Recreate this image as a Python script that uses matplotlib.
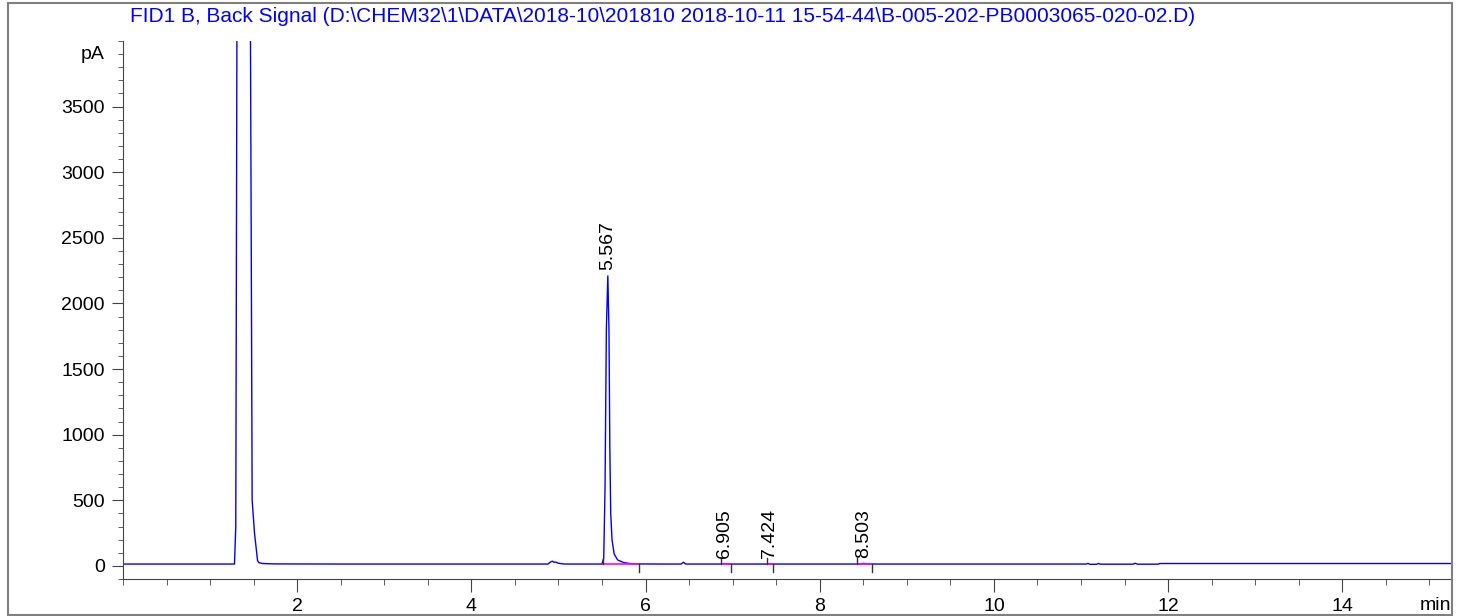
import matplotlib.pyplot as plt
from matplotlib.patches import Rectangle
from matplotlib.ticker import MultipleLocator, FixedLocator

plt.rcParams['font.family'] = ['Liberation Sans', 'DejaVu Sans']

# signal (min, pA)
time_min = [0.0, 1.28, 1.295, 1.31, 1.46, 1.465, 1.475, 1.483, 1.51, 1.545,
            1.56, 1.60, 1.74, 2.5, 3.5, 4.88, 4.91, 4.93, 4.95, 4.97, 5.0,
            5.07, 5.50, 5.52, 5.535, 5.55, 5.567, 5.58, 5.59, 5.60, 5.615,
            5.64, 5.68, 5.75, 5.85, 6.2, 6.41, 6.435, 6.46, 6.88, 6.905,
            6.93, 7.40, 7.424, 7.45, 8.47, 8.503, 8.54, 9.5, 11.06, 11.08,
            11.10, 11.18, 11.20, 11.22, 11.60, 11.62, 11.65, 11.89, 11.90,
            13.0, 15.26]
signal_pA = [14, 14, 300, 4600, 4600, 3800, 2000, 500, 250, 40,
             25, 18, 15, 14, 14, 14, 30, 36, 27, 29, 20,
             14, 14, 60, 600, 1800, 2210, 1800, 900, 400, 200,
             90, 45, 25, 15, 14, 14, 28, 14, 14, 18,
             14, 14, 17, 14, 14, 19, 14, 14, 14, 19,
             12, 12, 19, 13, 13, 20, 13, 13, 18,
             18, 18]

# integrated peaks
peak_rt = [5.567, 6.905, 7.424, 8.503]
peak_top = [2210, 18, 17, 19]
peak_start = [5.51, 6.87, 7.40, 8.43]
peak_end = [5.92, 6.985, 7.46, 8.60]
baseline_pA = 14

title = (r'FID1 B, Back Signal (D:\CHEM32\1\DATA\2018-10\201810 '
         r'2018-10-11 15-54-44\B-005-202-PB0003065-020-02.D)')

fig = plt.figure(figsize=(14.64, 6.16), dpi=100)
ax = fig.add_axes([123/1464, 37/616, 1329/1464, 538/616])

ax.plot(time_min, signal_pA, color='#0000ff', lw=1.0)

# baseline markers
for s, e in zip(peak_start, peak_end):
    ax.plot([s, e], [baseline_pA, baseline_pA], color='#ff00ff', lw=1.2)
    ax.plot([s, s], [baseline_pA, baseline_pA + 45], color='#333333', lw=1)
    ax.plot([e, e], [baseline_pA, baseline_pA - 60], color='#333333', lw=1)

for rt, top in zip(peak_rt, peak_top):
    ax.annotate(f'{rt:.3f}', (rt, top), xytext=(0, 4), textcoords='offset points',
                rotation=90, ha='center', va='bottom', fontsize=14)

ax.set_xlim(0, 15.26)
ax.set_ylim(-100, 4000)
ax.xaxis.set_major_locator(FixedLocator([2, 4, 6, 8, 10, 12, 14]))
ax.xaxis.set_minor_locator(MultipleLocator(0.5))
ax.yaxis.set_major_locator(FixedLocator([0, 500, 1000, 1500, 2000, 2500, 3000, 3500]))
ax.yaxis.set_minor_locator(MultipleLocator(100))

for side in ['top', 'right']:
    ax.spines[side].set_visible(False)
for side in ['left', 'bottom']:
    ax.spines[side].set_color('#444444')

ax.tick_params(axis='y', which='major', length=8, pad=5, labelsize=14, color='#444444')
ax.tick_params(axis='y', which='minor', length=3.6, color='#444444')
ax.tick_params(axis='x', which='major', length=9.4, pad=4, labelsize=14, color='#444444')
ax.tick_params(axis='x', which='minor', length=4.5, color='#444444')

ax.text(-18/1329, 3900, 'pA', transform=ax.get_yaxis_transform(), ha='right',
        va='center', fontsize=14)
fig.text(1451/1464, 1 - 606/616, 'min', ha='right', va='center', fontsize=14)
fig.text(130/1464, 1 - 16.5/616, title, ha='left', va='center', fontsize=15, color='#0000ff')

fig.patches.append(Rectangle((8/1464, 1/616), 1444/1464, 612/616, transform=fig.transFigure,
                             fill=False, edgecolor='#808080', lw=1.5))

fig.savefig('out.png', dpi=100)
